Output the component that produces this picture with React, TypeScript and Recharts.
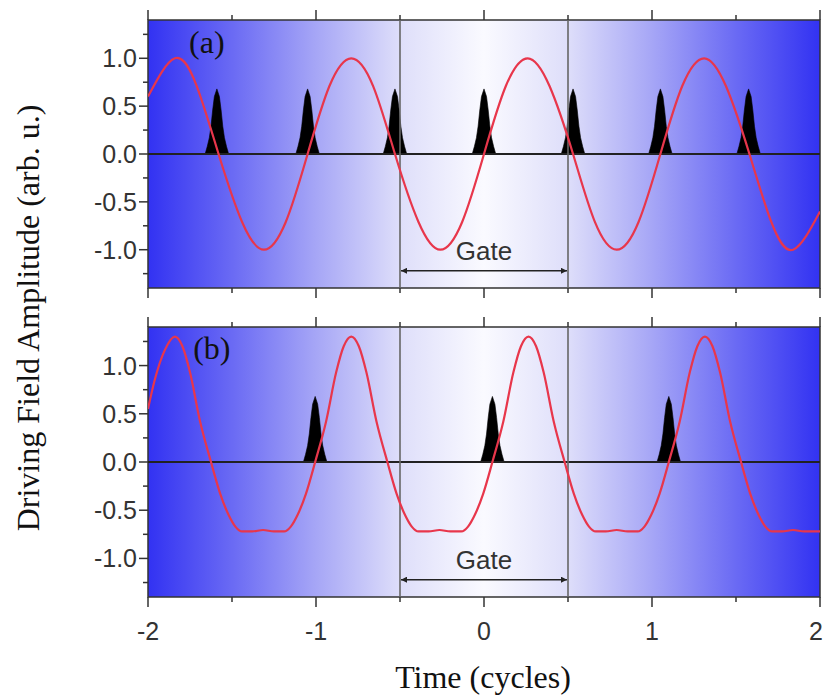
import {
  Area,
  ComposedChart,
  Line,
  ReferenceArea,
  ReferenceDot,
  ReferenceLine,
  XAxis,
  YAxis,
} from "recharts";

// panel (a): sinusoidal driving field
const timeA = [
  -2, -1.84, -1.71, -1.58, -1.44, -1.31, -1.18, -1.05, -0.92, -0.79, -0.66, -0.53, -0.39, -0.26, -0.13, 0,
  0.13, 0.26, 0.39, 0.53, 0.66, 0.79, 0.92, 1.05, 1.18, 1.31, 1.44, 1.58, 1.71, 1.84, 2,
];
const fieldA = [
  0.6, 1.0, 0.71, 0, -0.71, -1.0, -0.71, 0, 0.71, 1.0, 0.71, 0, -0.71, -1.0, -0.71, 0,
  0.71, 1.0, 0.71, 0, -0.71, -1.0, -0.71, 0, 0.71, 1.0, 0.71, 0, -0.71, -1.0, -0.6,
];

// panel (b): shaped field with flat negative half-cycles
const timeB = [
  -2, -1.96, -1.9, -1.84, -1.795, -1.75, -1.69, -1.625, -1.57, -1.52, -1.48, -1.44, -1.38, -1.315, -1.25,
  -1.19, -1.15, -1.11, -1.06, -1.005, -0.94, -0.88, -0.835, -0.79, -0.745, -0.7, -0.64, -0.575, -0.52, -0.47,
  -0.43, -0.39, -0.33, -0.265, -0.2,
  -0.135, -0.095, -0.055, -0.005, 0.05, 0.115, 0.175, 0.22, 0.265, 0.31, 0.355, 0.415, 0.48, 0.535, 0.585,
  0.625, 0.665, 0.725, 0.79, 0.855,
  0.915, 0.955, 0.995, 1.045, 1.1, 1.165, 1.225, 1.27, 1.315, 1.36, 1.405, 1.465, 1.53, 1.585, 1.635,
  1.675, 1.715, 1.775, 1.84, 1.905, 2,
];
const fieldB = [
  0.55, 0.85, 1.16, 1.3, 1.2, 0.93, 0.42, 0, -0.33, -0.55, -0.67, -0.72, -0.72, -0.705, -0.72,
  -0.72, -0.67, -0.55, -0.33, 0, 0.42, 0.93, 1.2, 1.3, 1.2, 0.93, 0.42, 0, -0.33, -0.55,
  -0.67, -0.72, -0.72, -0.705, -0.72,
  -0.72, -0.67, -0.55, -0.33, 0, 0.42, 0.93, 1.2, 1.3, 1.2, 0.93, 0.42, 0, -0.33, -0.55,
  -0.67, -0.72, -0.72, -0.705, -0.72,
  -0.72, -0.67, -0.55, -0.33, 0, 0.42, 0.93, 1.2, 1.3, 1.2, 0.93, 0.42, 0, -0.33, -0.55,
  -0.67, -0.72, -0.72, -0.705, -0.72, -0.72,
];

// attosecond pulses: centres and the shape of one pulse
const pulseTimesA = [-1.59, -1.05, -0.53, 0.0, 0.53, 1.05, 1.575];
const pulseTimesB = [-1.005, 0.05, 1.1];
const pulseOffsets = [-0.07, -0.057, -0.045, -0.035, -0.025, -0.015, 0, 0.015, 0.025, 0.035, 0.045, 0.057, 0.07];
const pulseLevels = [0, 0.08, 0.17, 0.29, 0.46, 0.6, 0.68, 0.6, 0.46, 0.29, 0.17, 0.08, 0];

const xTicks = [-2, -1.5, -1, -0.5, 0, 0.5, 1, 1.5, 2];
const yTicks = [-1.25, -1, -0.75, -0.5, -0.25, 0, 0.25, 0.5, 0.75, 1, 1.25];
const gateEdges = [-0.5, 0.5];

const RED = "#e8364b";
const AXIS = "#333";
const SANS = "'Liberation Sans', Arial, sans-serif";
const SERIF = "'Liberation Serif', 'Times New Roman', serif";

const toPoints = (ts: number[], vs: number[]) => ts.map((t, i) => ({ t, v: vs[i] }));
const toPulses = (centres: number[]) =>
  centres.flatMap((c) => pulseOffsets.map((o, i) => ({ t: c + o, v: pulseLevels[i] })));

const isStep = (v: number, step: number) => Math.abs(v / step - Math.round(v / step)) < 1e-6;

function LeftTick(props: any) {
  const { x, y, payload } = props;
  const major = isStep(payload.value, 0.5);
  const len = major ? 9 : 5;
  return (
    <g>
      <line x1={x - len} x2={x} y1={y} y2={y} stroke={AXIS} strokeWidth={1.5} />
      {major && (
        <text x={x - 11} y={y + 9} textAnchor="end" fontFamily={SANS} fontSize={25} fill="#333">
          {payload.value.toFixed(1)}
        </text>
      )}
    </g>
  );
}

function TopTick(props: any) {
  const { x, y, payload } = props;
  const len = isStep(payload.value, 1) ? 10 : 5;
  return <line x1={x} x2={x} y1={y - len} y2={y} stroke={AXIS} strokeWidth={1.5} />;
}

function BottomTick(props: any) {
  const { x, y, payload, showLabels } = props;
  const major = isStep(payload.value, 1);
  const len = major ? 10 : 5;
  const last = payload.value === xTicks[xTicks.length - 1];
  return (
    <g>
      <line x1={x} x2={x} y1={y} y2={y + len} stroke={AXIS} strokeWidth={1.5} />
      {showLabels && major && (
        <text
          x={last ? x + 3 : x}
          y={y + 43}
          textAnchor={last ? "end" : "middle"}
          fontFamily={SANS}
          fontSize={25}
          fill="#333"
        >
          {String(payload.value)}
        </text>
      )}
    </g>
  );
}

type PanelProps = {
  id: string;
  top: number;
  height: number;
  bottomAxis: number;
  curve: { t: number; v: number }[];
  curveType: "natural" | "monotone";
  pulses: { t: number; v: number }[];
  tag: string;
  tagAt: [number, number];
  showLabels: boolean;
};

function Panel({ id, top, height, bottomAxis, curve, curveType, pulses, tag, tagAt, showLabels }: PanelProps) {
  return (
    <div style={{ position: "absolute", left: 0, top }}>
      <ComposedChart width={823} height={height} margin={{ top: 10, right: 3, left: 88, bottom: 0 }}>
        <defs>
          <linearGradient id={`bg-${id}`} x1="0" y1="0" x2="1" y2="0">
            <stop offset="0%" stopColor="#3232f2" />
            <stop offset="12.5%" stopColor="#6a6af4" />
            <stop offset="25%" stopColor="#a6a6f6" />
            <stop offset="37.5%" stopColor="#dedefa" />
            <stop offset="50%" stopColor="#fafaff" />
            <stop offset="62.5%" stopColor="#dedefa" />
            <stop offset="75%" stopColor="#a6a6f6" />
            <stop offset="87.5%" stopColor="#6a6af4" />
            <stop offset="100%" stopColor="#3232f2" />
          </linearGradient>
          <marker
            id={`arrow-${id}`}
            viewBox="0 0 10 10"
            refX="10"
            refY="5"
            markerWidth="9"
            markerHeight="6"
            markerUnits="userSpaceOnUse"
            orient="auto-start-reverse"
          >
            <path d="M0,0 L10,5 L0,10 z" fill="#222" />
          </marker>
        </defs>
        <XAxis
          xAxisId="top"
          orientation="top"
          type="number"
          dataKey="t"
          domain={[-2, 2]}
          allowDataOverflow
          ticks={xTicks}
          interval={0}
          height={10}
          tickSize={0}
          tickMargin={0}
          axisLine={false}
          tickLine={false}
          tick={<TopTick />}
        />
        <XAxis
          type="number"
          dataKey="t"
          domain={[-2, 2]}
          allowDataOverflow
          ticks={xTicks}
          interval={0}
          height={bottomAxis}
          tickSize={0}
          tickMargin={0}
          axisLine={false}
          tickLine={false}
          tick={<BottomTick showLabels={showLabels} />}
        />
        <YAxis
          type="number"
          domain={[-1.4, 1.4]}
          allowDataOverflow
          ticks={yTicks}
          interval={0}
          width={60}
          tickSize={0}
          tickMargin={0}
          axisLine={false}
          tickLine={false}
          tick={<LeftTick />}
        />
        <ReferenceArea
          x1={-2}
          x2={2}
          y1={-1.4}
          y2={1.4}
          fill={`url(#bg-${id})`}
          fillOpacity={1}
          stroke={AXIS}
          strokeWidth={1.5}
        />
        <ReferenceLine y={0} stroke="#222" strokeWidth={2} />
        {gateEdges.map((g) => (
          <ReferenceLine key={g} x={g} stroke="#666" strokeWidth={1.6} />
        ))}
        <ReferenceLine
          segment={[
            { x: gateEdges[0], y: -1.22 },
            { x: gateEdges[1], y: -1.22 },
          ]}
          shape={(p: any) => (
            <line
              x1={p.x1 + 1}
              y1={p.y1}
              x2={p.x2 - 1}
              y2={p.y2}
              stroke="#222"
              strokeWidth={1.5}
              markerStart={`url(#arrow-${id})`}
              markerEnd={`url(#arrow-${id})`}
            />
          )}
        />
        <ReferenceDot
          x={0}
          y={-1.11}
          r={0}
          shape={(p: any) => (
            <text x={p.cx} y={p.cy} textAnchor="middle" fontFamily={SANS} fontSize={26} fill="#333">
              Gate
            </text>
          )}
        />
        <ReferenceDot
          x={tagAt[0]}
          y={tagAt[1]}
          r={0}
          shape={(p: any) => (
            <text x={p.cx} y={p.cy} textAnchor="middle" fontFamily={SERIF} fontSize={32} fill="#111">
              {tag}
            </text>
          )}
        />
        <Area
          data={pulses}
          dataKey="v"
          type="linear"
          baseValue={0}
          fill="#000"
          fillOpacity={1}
          stroke="#000"
          strokeWidth={0.6}
          dot={false}
          activeDot={false}
          isAnimationActive={false}
        />
        <Line
          data={curve}
          dataKey="v"
          type={curveType}
          stroke={RED}
          strokeWidth={2.2}
          dot={false}
          activeDot={false}
          isAnimationActive={false}
        />
      </ComposedChart>
    </div>
  );
}

export default function App() {
  return (
    <div style={{ position: "absolute", left: 0, top: 0, width: 823, height: 696, background: "#fff" }}>
      <Panel
        id="a"
        top={0}
        height={300}
        bottomAxis={12}
        curve={toPoints(timeA, fieldA)}
        curveType="natural"
        pulses={toPulses(pulseTimesA)}
        tag="(a)"
        tagAt={[-1.65, 1.06]}
        showLabels={false}
      />
      <Panel
        id="b"
        top={307}
        height={340}
        bottomAxis={50}
        curve={toPoints(timeB, fieldB)}
        curveType="monotone"
        pulses={toPulses(pulseTimesB)}
        tag="(b)"
        tagAt={[-1.62, 1.07]}
        showLabels
      />
      <svg width={823} height={696} style={{ position: "absolute", left: 0, top: 0, pointerEvents: "none" }}>
        <text
          x={39}
          y={318}
          transform="rotate(-90 39 318)"
          textAnchor="middle"
          fontFamily={SERIF}
          fontSize={32}
          fill="#111"
        >
          Driving Field Amplitude (arb. u.)
        </text>
        <text x={483} y={688} textAnchor="middle" fontFamily={SERIF} fontSize={32} fill="#111">
          Time (cycles)
        </text>
      </svg>
    </div>
  );
}
